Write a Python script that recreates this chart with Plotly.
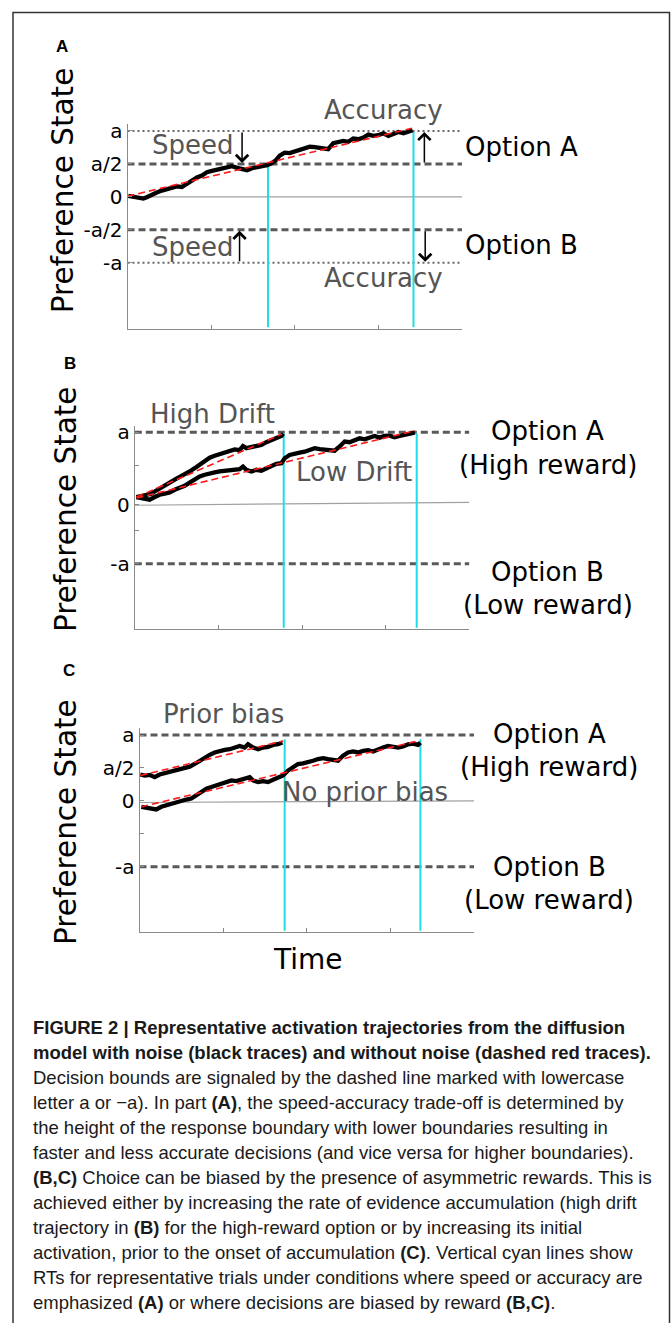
import plotly.graph_objects as go

W, H = 671, 1323

# ---------------- data (units: time 0-4, preference state with a = 2) ----------------
# Panel A: one noisy trajectory, its noise-free drift, and RTs for speed / accuracy bounds
A_time = [0.01, 0.07, 0.13, 0.19, 0.23, 0.29, 0.35, 0.41, 0.47, 0.53, 0.59, 0.65, 0.71, 0.77, 0.83,
          0.89, 0.95, 1.01, 1.07, 1.13, 1.19, 1.25, 1.31, 1.37, 1.43, 1.49, 1.55, 1.61, 1.67, 1.71,
          1.77, 1.82, 1.88, 1.94, 2.00, 2.06, 2.12, 2.18, 2.24, 2.30, 2.36, 2.40, 2.46, 2.52, 2.58,
          2.64, 2.70, 2.76, 2.82, 2.88, 2.94, 3.00, 3.06, 3.12, 3.18, 3.24, 3.30, 3.36, 3.41]
A_noisy = [0.03, 0.00, -0.02, -0.05, -0.01, 0.07, 0.13, 0.19, 0.23, 0.27, 0.32, 0.30, 0.40, 0.52, 0.59,
           0.65, 0.75, 0.79, 0.83, 0.85, 0.89, 0.93, 0.88, 0.85, 0.81, 0.87, 0.89, 0.93, 0.96, 1.00,
           1.10, 1.25, 1.34, 1.33, 1.38, 1.42, 1.49, 1.52, 1.51, 1.49, 1.48, 1.45, 1.63, 1.68, 1.70,
           1.67, 1.77, 1.75, 1.80, 1.89, 1.85, 1.87, 1.93, 1.85, 1.92, 1.97, 1.93, 1.99, 2.02]
A_drift_t = [0.0, 3.40]
A_drift_v = [0.02, 2.08]
A_rt = [1.68, 3.42]
A_rt_top = [0.96, 1.97]
A_dotted = [2, -2]        # a, -a
A_dashed = [1, -1]        # a/2, -a/2
A_zero = [0.0, 0.0]
A_tickvals = [2, 1, 0, -1, -2]
A_ticktext = ["a", "a/2", "0", "-a/2", "-a"]
# arrows: x, tail, head
A_arrow_x = [1.37, 1.34, 3.55, 3.56]
A_arrow_tail = [2.0, -2.0, 1.0, -1.0]
A_arrow_head = [1.03, -1.03, 1.97, -1.97]

# Panel B: high drift vs low drift
B_high_t = [0.018, 0.078, 0.138, 0.198, 0.238, 0.297, 0.357, 0.417, 0.477, 0.536, 0.596, 0.656, 0.716,
            0.776, 0.836, 0.895, 0.955, 1.015, 1.074, 1.134, 1.194, 1.254, 1.293, 1.333, 1.393, 1.453,
            1.513, 1.572, 1.632, 1.692, 1.752, 1.776]
B_high_v = [0.03, 0.07, 0.10, 0.13, 0.20, 0.30, 0.40, 0.47, 0.56, 0.64, 0.71, 0.81, 0.91, 1.01, 1.14,
            1.23, 1.29, 1.34, 1.38, 1.44, 1.48, 1.46, 1.58, 1.52, 1.55, 1.57, 1.62, 1.70, 1.77, 1.82,
            1.89, 1.96]
B_low_t = [0.018, 0.078, 0.138, 0.178, 0.238, 0.297, 0.357, 0.417, 0.477, 0.536, 0.596, 0.656, 0.716,
           0.776, 0.836, 0.895, 0.955, 1.015, 1.074, 1.134, 1.194, 1.254, 1.293, 1.333, 1.393, 1.453,
           1.513, 1.572, 1.632, 1.692, 1.752, 1.792, 1.851, 1.911, 1.971, 2.031, 2.090, 2.150, 2.210,
           2.270, 2.329, 2.389, 2.449, 2.509, 2.568, 2.628, 2.688, 2.748, 2.808, 2.867, 2.927, 2.987,
           3.047, 3.106, 3.166, 3.226, 3.286, 3.346]
B_low_v = [0.03, 0.00, -0.03, -0.05, 0.03, 0.10, 0.13, 0.17, 0.25, 0.30, 0.37, 0.47, 0.56, 0.66, 0.71,
           0.76, 0.78, 0.81, 0.83, 0.86, 0.89, 0.88, 0.96, 0.86, 0.81, 0.86, 0.83, 0.91, 0.98, 1.04,
           1.06, 1.21, 1.31, 1.36, 1.38, 1.41, 1.48, 1.52, 1.49, 1.48, 1.46, 1.44, 1.57, 1.72, 1.70,
           1.75, 1.82, 1.79, 1.85, 1.89, 1.84, 1.89, 1.90, 1.85, 1.89, 1.92, 1.94, 1.99]
B_high_drift_t = [0.02, 1.76]
B_high_drift_v = [0.03, 1.95]
B_low_drift_t = [0.02, 3.35]
B_low_drift_v = [0.00, 2.05]
B_rt = [1.78, 3.37]
B_rt_top = [1.97, 1.97]
B_dashed = [2, -2]
B_zero = [-0.22, -0.13]
B_tickvals = [2, 1, -0.2, -1, -2]
B_ticktext = ["a", "", "0", "", "-a"]

# Panel C: prior bias vs no prior bias
C_prior_t = [0.010, 0.062, 0.122, 0.181, 0.241, 0.301, 0.361, 0.421, 0.480, 0.540, 0.600, 0.660, 0.720,
             0.780, 0.839, 0.899, 0.959, 1.019, 1.079, 1.138, 1.198, 1.258, 1.298, 1.358, 1.418, 1.477,
             1.537, 1.597, 1.657, 1.709]
C_prior_v = [0.80, 0.77, 0.79, 0.72, 0.80, 0.84, 0.90, 0.94, 0.97, 1.02, 1.04, 1.12, 1.22, 1.32, 1.40,
             1.47, 1.52, 1.55, 1.57, 1.62, 1.67, 1.62, 1.72, 1.62, 1.57, 1.62, 1.64, 1.70, 1.72, 1.77]
C_none_t = [0.022, 0.082, 0.142, 0.201, 0.261, 0.321, 0.381, 0.441, 0.500, 0.560, 0.620, 0.680, 0.740,
            0.800, 0.859, 0.919, 0.979, 1.039, 1.099, 1.158, 1.218, 1.278, 1.318, 1.358, 1.418, 1.477,
            1.537, 1.597, 1.657, 1.717, 1.776, 1.836, 1.896, 1.956, 2.016, 2.075, 2.135, 2.195, 2.255,
            2.315, 2.374, 2.434, 2.494, 2.554, 2.614, 2.673, 2.733, 2.793, 2.853, 2.913, 2.972, 3.032,
            3.092, 3.152, 3.212, 3.271, 3.331, 3.359]
C_none_v = [-0.18, -0.20, -0.23, -0.26, -0.18, -0.13, -0.10, -0.06, 0.00, 0.04, 0.07, 0.17, 0.27, 0.37,
            0.42, 0.47, 0.52, 0.57, 0.62, 0.60, 0.64, 0.67, 0.72, 0.62, 0.57, 0.60, 0.57, 0.64, 0.70,
            0.77, 0.92, 1.04, 1.12, 1.14, 1.17, 1.22, 1.27, 1.30, 1.27, 1.24, 1.22, 1.37, 1.47, 1.50,
            1.47, 1.52, 1.54, 1.50, 1.57, 1.62, 1.67, 1.64, 1.62, 1.65, 1.72, 1.74, 1.70, 1.77]
C_prior_drift_t = [0.01, 1.72]
C_prior_drift_v = [0.77, 1.82]
C_none_drift_t = [0.02, 3.33]
C_none_drift_v = [-0.18, 1.82]
C_rt = [1.736, 3.359]
C_rt_top = [1.87, 1.87]
C_dashed = [2, -2]
C_zero = [-0.05, 0.0]
C_tickvals = [2, 1, 0, -1, -2]
C_ticktext = ["a", "a/2", "0", "", "-a"]

X_RANGE = [0, 4]
Y_RANGE = [-4, 2.2]
Y_BOTTOM = -3.95

CAPTION = [
    "<b>FIGURE 2 | Representative activation trajectories from the diffusion</b>",
    "<b>model with noise (black traces) and without noise (dashed red traces).</b>",
    "Decision bounds are signaled by the dashed line marked with lowercase",
    "letter a or \u2212a). In part <b>(A)</b>, the speed-accuracy trade-off is determined by",
    "the height of the response boundary with lower boundaries resulting in",
    "faster and less accurate decisions (and vice versa for higher boundaries).",
    "<b>(B,C)</b> Choice can be biased by the presence of asymmetric rewards. This is",
    "achieved either by increasing the rate of evidence accumulation (high drift",
    "trajectory in <b>(B)</b> for the high-reward option or by increasing its initial",
    "activation, prior to the onset of accumulation <b>(C)</b>. Vertical cyan lines show",
    "RTs for representative trials under conditions where speed or accuracy are",
    "emphasized <b>(A)</b> or where decisions are biased by reward <b>(B,C)</b>.",
]

# ---------------- styling ----------------
FONT = "DejaVu Sans"
GRAY_TXT = "#555555"
BOUND_COL = "#5a5a5a"
CYAN = "#1fdde6"
AXIS_COL = "#8a8a8a"
TRACE_W = 4.3


def px(xp):
    return xp / W


def py(yp):
    return 1 - yp / H


fig = go.Figure()


def line(x, y, ax, color, width, dash="solid"):
    fig.add_trace(go.Scatter(x=x, y=y, mode="lines", xaxis="x" + ax, yaxis="y" + ax,
                             line=dict(color=color, width=width, dash=dash),
                             hoverinfo="skip", showlegend=False))


DASHED = "7px,4px"
DOTTED = "2px,3px"
RED_DASH = "7px,4px"

# Panel A
for v in A_dotted:
    line(X_RANGE, [v, v], "", "#666666", 2, DOTTED)
for v in A_dashed:
    line(X_RANGE, [v, v], "", BOUND_COL, 3, DASHED)
line(X_RANGE, A_zero, "", "#a0a0a0", 1.2)
for t, top in zip(A_rt, A_rt_top):
    line([t, t], [top, Y_BOTTOM], "", CYAN, 2)
line(A_time, A_noisy, "", "black", TRACE_W)
line(A_drift_t, A_drift_v, "", "#ff1a1a", 1.6, RED_DASH)

# Panel B
for v in B_dashed:
    line(X_RANGE, [v, v], "2", BOUND_COL, 3, DASHED)
line(X_RANGE, B_zero, "2", "#a0a0a0", 1.2)
for t, top in zip(B_rt, B_rt_top):
    line([t, t], [top, Y_BOTTOM], "2", CYAN, 2)
line(B_high_t, B_high_v, "2", "black", TRACE_W)
line(B_low_t, B_low_v, "2", "black", TRACE_W)
line(B_high_drift_t, B_high_drift_v, "2", "#ff1a1a", 1.6, RED_DASH)
line(B_low_drift_t, B_low_drift_v, "2", "#ff1a1a", 1.6, RED_DASH)

# Panel C
for v in C_dashed:
    line(X_RANGE, [v, v], "3", BOUND_COL, 3, DASHED)
line(X_RANGE, C_zero, "3", "#a0a0a0", 1.2)
for t, top in zip(C_rt, C_rt_top):
    line([t, t], [top, Y_BOTTOM], "3", CYAN, 2)
line(C_prior_t, C_prior_v, "3", "black", TRACE_W)
line(C_none_t, C_none_v, "3", "black", TRACE_W)
line(C_prior_drift_t, C_prior_drift_v, "3", "#ff1a1a", 1.6, RED_DASH)
line(C_none_drift_t, C_none_drift_v, "3", "#ff1a1a", 1.6, RED_DASH)


def xaxis(dom, anchor):
    return dict(domain=[px(dom[0]), px(dom[1])], range=X_RANGE, anchor=anchor, showgrid=False,
                zeroline=False, showline=True, linecolor=AXIS_COL, linewidth=1, ticks="inside",
                ticklen=4, tickcolor=AXIS_COL, tickvals=[0, 1, 2, 3, 4],
                ticktext=["", "", "", "", ""], fixedrange=True)


def yaxis(dom, anchor, tv, tt):
    return dict(domain=[py(dom[1]), py(dom[0])], range=Y_RANGE, anchor=anchor, showgrid=False,
                zeroline=False, showline=True, linecolor=AXIS_COL, linewidth=1, ticks="inside",
                ticklen=4, tickcolor=AXIS_COL, tickvals=tv, ticktext=tt,
                tickfont=dict(family=FONT, size=20, color="black"), fixedrange=True)


A_dom_x, A_dom_y = [127.5, 462], [119.8, 325]
B_dom_x, B_dom_y = [134.8, 469.4], [422.4, 626.7]
C_dom_x, C_dom_y = [139.5, 474], [726.2, 931]

ann = []


def text(s, cx, cy, size=26, color=GRAY_TXT, family=FONT, xanchor="center", angle=0):
    ann.append(dict(text=s, x=px(cx), y=py(cy), xref="paper", yref="paper", showarrow=False,
                    xanchor=xanchor, yanchor="middle", textangle=angle,
                    font=dict(family=family, size=size, color=color)))


# arrows (panel A)
for x, tail, head in zip(A_arrow_x, A_arrow_tail, A_arrow_head):
    ann.append(dict(x=x, y=head, ax=x, ay=tail, xref="x", yref="y", axref="x", ayref="y",
                    text="", showarrow=True, arrowhead=4, arrowsize=1.6, arrowwidth=1.5,
                    arrowcolor="black", standoff=0, startstandoff=0))

# panel A texts
text("Accuracy", 383.5, 105.8)
text("Speed", 193.3, 140.5)
text("Speed", 193.3, 242.5)
text("Accuracy", 383.5, 274.2)
text("Option A", 521, 142.5, color="black")
text("Option B", 521, 241.2, color="black")
text("<b>A</b>", 62, 41.7, size=17, color="black", family="Liberation Sans")
text("Preference State", 63, 186, size=29.5, color="black", angle=-90)

# panel B texts
text("High Drift", 212.5, 410.3)
text("Low Drift", 353.8, 468.5)
text("Option A", 547, 427.5, color="black")
text("(High reward)", 547.5, 461.3, color="black")
text("Option B", 547, 568.8, color="black")
text("(Low reward)", 547.5, 602.2, color="black")
text("<b>B</b>", 70, 360, size=17, color="black", family="Liberation Sans")
text("Preference State", 66, 506, size=29.5, color="black", angle=-90)

# panel C texts
text("Prior bias", 223, 711.2)
text("No prior bias", 365, 789.7)
text("Option A", 549, 731.8, color="black")
text("(High reward)", 549, 765, color="black")
text("Option B", 549, 865.5, color="black")
text("(Low reward)", 548.5, 898.8, color="black")
text("<b>C</b>", 68.5, 668.3, size=17, color="black", family="Liberation Sans")
text("Preference State", 66, 820, size=29.5, color="black", angle=-90)
text("Time", 307.6, 958.3, size=28, color="black")

# caption
CAP_SIZE = 18.5
for i, s in enumerate(CAPTION):
    base = 1032.7 + 25.1 * i
    text(s, 31.0, base - 0.3465 * CAP_SIZE, size=CAP_SIZE, color="#1a1a1a",
         family="Liberation Sans", xanchor="left")

# outer frame
shapes = [dict(type="rect", xref="paper", yref="paper", x0=px(13), x1=px(669.5), y0=-0.01,
               y1=py(7.5), line=dict(color="#333333", width=1.5), fillcolor="rgba(0,0,0,0)")]

fig.update_layout(
    width=W, height=H, margin=dict(l=0, r=0, t=0, b=0),
    paper_bgcolor="white", plot_bgcolor="rgba(0,0,0,0)",
    xaxis=xaxis(A_dom_x, "y"), yaxis=yaxis(A_dom_y, "x", A_tickvals, A_ticktext),
    xaxis2=xaxis(B_dom_x, "y2"), yaxis2=yaxis(B_dom_y, "x2", B_tickvals, B_ticktext),
    xaxis3=xaxis(C_dom_x, "y3"), yaxis3=yaxis(C_dom_y, "x3", C_tickvals, C_ticktext),
    annotations=ann, shapes=shapes, showlegend=False,
)

fig.write_html("out.html", config={"displayModeBar": False},
               post_script="document.body.style.margin='0px';document.body.style.overflow='hidden';")
